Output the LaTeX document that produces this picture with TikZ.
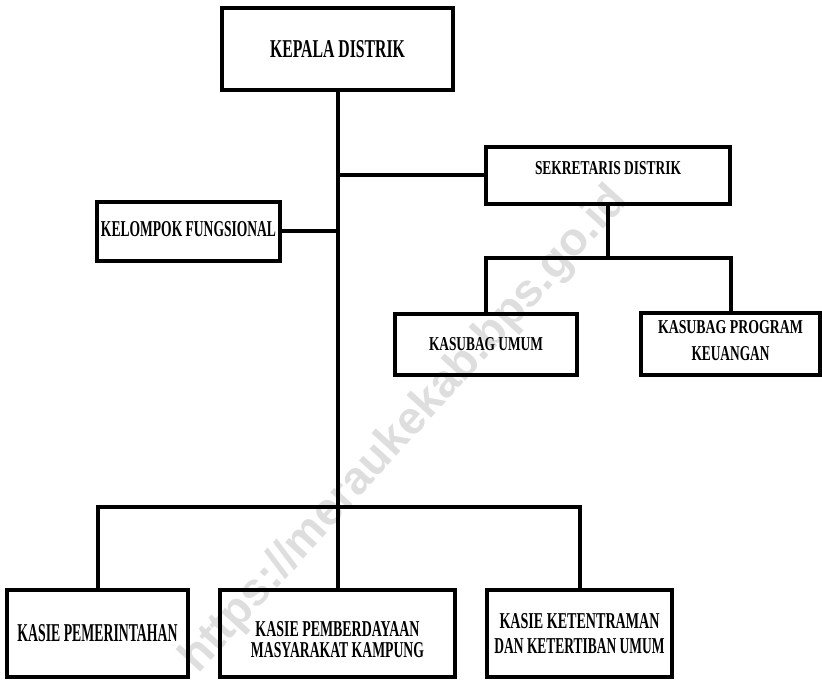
\documentclass[tikz,border=0pt]{standalone}
\usepackage{fontspec}
\setmainfont{Liberation Serif}
\newfontfamily\wmfont{Liberation Sans}
\usepackage{graphicx}
\newlength{\px}\setlength{\px}{0.75pt}
\newcommand{\fitlbl}[3]{\resizebox{#1\px}{#2\px}{\bfseries #3}}
\newcommand{\liftlbl}[2]{\raisebox{#1}[\height][\depth]{#2}}
\begin{document}
\begin{tikzpicture}[x=0.75pt,y=-0.75pt,
  box/.style={draw=black, line width=3.4pt, fill=white, inner sep=0pt,
    align=center, font=\fontsize{10}{18}\selectfont},
  conn/.style={draw=black, line width=3pt},
  wmark/.style={text=black, text opacity=0.13, inner sep=0pt}]
\fill[white] (0,0) rectangle (822,680);
\useasboundingbox (0,0) rectangle (822,680);

\node[box, minimum width=173.25pt, minimum height=61.5pt] (kepala) at (337.5,49)
  {\fitlbl{135}{17}{KEPALA DISTRIK}};
\node[box, minimum width=183pt, minimum height=42.75pt] (sek) at (608,175.5)
  {\liftlbl{5.25pt}{\fitlbl{146}{13}{SEKRETARIS DISTRIK}}};
\node[box, minimum width=137.25pt, minimum height=44.25pt] (kel) at (188.5,231.5)
  {\liftlbl{1.5pt}{\fitlbl{175}{15}{KELOMPOK FUNGSIONAL}}};
\node[box, minimum width=136.5pt, minimum height=45.75pt] (umum) at (486,344.5)
  {\fitlbl{114}{13}{KASUBAG UMUM}};
\node[box, minimum width=134.25pt, minimum height=46.5pt] (prog) at (730.5,344)
  {\liftlbl{2.25pt}{\fitlbl{145}{13}{KASUBAG PROGRAM}}\\[2.25pt]\liftlbl{2.25pt}{\fitlbl{78}{14}{KEUANGAN}}};
\node[box, minimum width=135.75pt, minimum height=65.25pt] (pem) at (97.5,633.5)
  {\fitlbl{160}{17}{KASIE PEMERINTAHAN}};
\node[box, minimum width=176.25pt, minimum height=65.25pt] (pmb) at (337.5,633.5)
  {\liftlbl{-4.9pt}{\fitlbl{164}{15}{KASIE PEMBERDAYAAN}}\\[-2.25pt]\liftlbl{-4.9pt}{\fitlbl{173}{15}{MASYARAKAT KAMPUNG}}};
\node[box, minimum width=138.75pt, minimum height=65.25pt] (ket) at (579.5,633.5)
  {\fitlbl{160}{15}{KASIE KETENTRAMAN}\\[0.75pt]\fitlbl{170}{15}{DAN KETERTIBAN UMUM}};

\coordinate (jB) at (337.5,507);
\coordinate (jU) at (608,258);

\draw[conn] (kepala.south) -- (jB);
\draw[conn] (kepala.south |- sek.west) -- (sek.west);
\draw[conn] (kel.east) -- (kel.east -| kepala.south);
\draw[conn] (sek.south) -- (jU);
\draw[conn] (umum.north) -- (umum.north |- jU) -- (prog.north |- jU) -- (prog.north);
\draw[conn] (pem.north) -- (pem.north |- jB) -- (ket.north |- jB) -- (ket.north);
\draw[conn] (pmb.north) -- (jB);

\node[wmark, rotate=47.7] (wm) at (405,430)
  {\resizebox{640\px}{!}{\wmfont\bfseries https://meraukekab.bps.go.id}};
\end{tikzpicture}
\end{document}
